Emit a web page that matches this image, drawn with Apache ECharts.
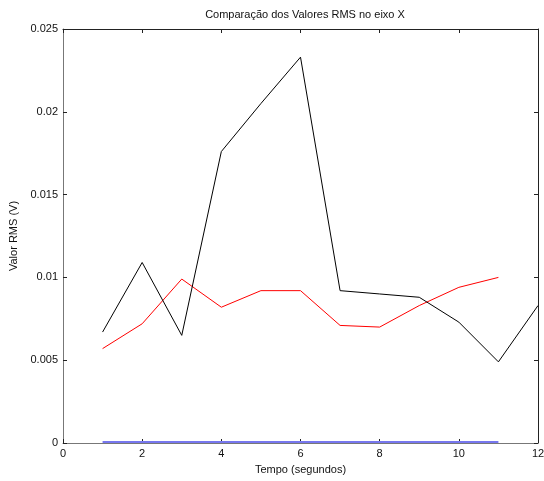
<!DOCTYPE html>
<html><head><meta charset="utf-8">
<script src="https://cdn.jsdelivr.net/npm/echarts@6/dist/echarts.min.js"></script>
<style>html,body{margin:0;padding:0;background:#fff}#c{width:544px;height:481px}</style>
</head><body><div id="c"></div>
<script>
const timeBlack = [1,2,3,4,5,6,7,8,9,10,11,12];
const valuesBlack = [0.0067,0.0109,0.0065,0.0176,0.0205,0.0233,0.0092,0.0090,0.0088,0.0073,0.0049,0.0083];
const timeRed = [1,2,3,4,5,6,7,8,9,10,11];
const valuesRed = [0.0057,0.0072,0.0099,0.0082,0.0092,0.0092,0.0071,0.0070,0.0083,0.0094,0.0100];
const timeBlue = [1,2,3,4,5,6,7,8,9,10,11];
const valuesBlue = [0.00006,0.00006,0.00006,0.00006,0.00006,0.00006,0.00006,0.00006,0.00006,0.00006,0.00006];
const xTicks = [0,2,4,6,8,10,12];
const yTicks = [0,0.005,0.01,0.015,0.02,0.025];

const font = 'Liberation Sans, Arial, sans-serif';
const pair = (xs, ys) => xs.map((x,i)=>[x, ys[i]]);
const chart = echarts.init(document.getElementById('c'), null, {renderer:'canvas'});
const axisBase = (pos, show) => ({
  position: pos,
  axisLine:{show:true, onZero:false, lineStyle:{color: show ? '#777' : '#222', width:1}},
  axisTick:{show:true, inside:true, length:4, lineStyle:{color:'#222'}},
  splitLine:{show:false},
  axisLabel:{show:show, color:'#111', fontSize:11, fontFamily:font},
});
chart.setOption({
  animation:false,
  backgroundColor:'#fff',
  title:{text:'Comparação dos Valores RMS no eixo X', left:300, top:4, textAlign:'center',
    textStyle:{fontSize:11, fontWeight:'normal', color:'#111', fontFamily:font}},
  grid:{left:63, right:6, top:29, bottom:38, containLabel:false, outerBoundsMode:'none'},
  xAxis:[
    Object.assign(axisBase('bottom', true), {type:'value', min:0, max:12, interval:2,
      name:'Tempo (segundos)', nameLocation:'middle', nameGap:21,
      nameTextStyle:{fontSize:11, color:'#111', fontFamily:font},
      axisLabel:{color:'#111', fontSize:11, fontFamily:font, margin:5,
        formatter:v=> xTicks.includes(v) ? String(v) : ''}}),
    Object.assign(axisBase('top', false), {type:'value', min:0, max:12, interval:2})
  ],
  yAxis:[
    Object.assign(axisBase('left', true), {type:'value', min:0, max:0.025, interval:0.005,
      name:'Valor RMS (V)', nameLocation:'middle', nameGap:33,
      nameTextStyle:{fontSize:11, color:'#111', fontFamily:font},
      axisLabel:{color:'#111', fontSize:11, fontFamily:font, margin:5,
        formatter:v=>{const t=yTicks.find(y=>Math.abs(y-v)<1e-9); return t===undefined?'':String(+t.toFixed(3));}}}),
    Object.assign(axisBase('right', false), {type:'value', min:0, max:0.025, interval:0.005})
  ],
  series:[
    {type:'line', data:pair(timeBlue, valuesBlue), symbol:'none', lineStyle:{color:'#7777ee', width:2}, silent:true},
    {type:'line', data:pair(timeRed, valuesRed), symbol:'none', lineStyle:{color:'#ff0000', width:1}, silent:true},
    {type:'line', data:pair(timeBlack, valuesBlack), symbol:'none', lineStyle:{color:'#000000', width:1}, silent:true}
  ]
});
</script></body></html>
